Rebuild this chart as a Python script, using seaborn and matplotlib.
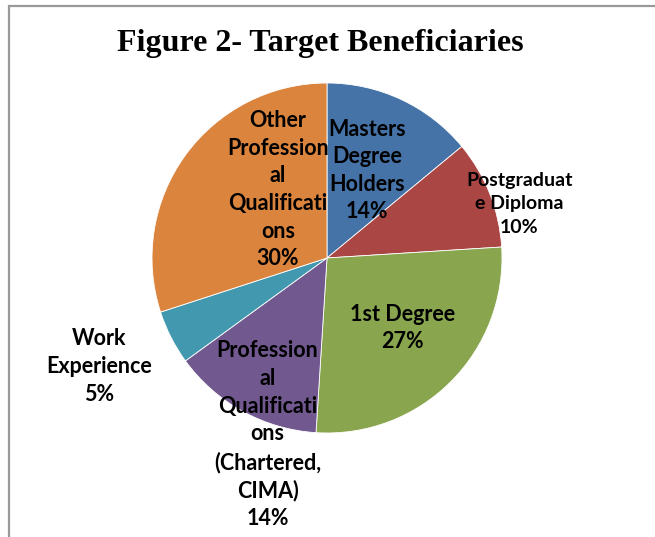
import matplotlib
matplotlib.use("Agg")
import matplotlib.pyplot as plt
import seaborn as sns
from matplotlib.patches import Rectangle

# data
categories = ["Masters\nDegree\nHolders", "Postgraduat\ne Diploma", "1st Degree",
              "Profession\nal\nQualificati\nons\n(Chartered,\nCIMA)",
              "Work\nExperience",
              "Other\nProfession\nal\nQualificati\nons"]
shares = [14, 10, 27, 14, 5, 30]
colors = ["#4573A7", "#AA4644", "#89A54E", "#71588F", "#4298AF", "#DB843D"]

# label placement (pie units, radius = 1), font sizes, line spacing
label_xy = [(0.23, 0.50), (1.10, 0.31), (0.43, -0.40), (-0.34, -1.01), (-1.30, -0.62), (-0.28, 0.39)]
label_size = [15.5, 14, 15.5, 15.5, 15.5, 15.5]
label_gap = [1.39, 1.45, 1.39, 1.39, 1.39, 1.39]

sns.set_style("white")
plt.rcParams["font.family"] = ["Lato", "DejaVu Sans"]

fig = plt.figure(figsize=(6.55, 5.37), dpi=100)
fig.patch.set_facecolor("white")

# chart frame (runs off right/bottom edge)
fig.patches.append(Rectangle((9 / 655, -0.1), 1.2, 1 - 5.5 / 537 + 0.1, transform=fig.transFigure,
                             fill=False, edgecolor="#999999", linewidth=1.6))

ax = fig.add_axes([152 / 655, 104 / 537, 350 / 655, 350 / 537])
ax.pie(shares, colors=colors, startangle=90, counterclock=False, radius=1,
       wedgeprops=dict(linewidth=0.6, edgecolor="white"))
ax.set_xlim(-1, 1)
ax.set_ylim(-1, 1)
ax.set_aspect("equal")
ax.axis("off")

for cat, val, (x, y), fs, ls in zip(categories, shares, label_xy, label_size, label_gap):
    ax.text(x, y, f"{cat}\n{val}%", ha="center", va="center", fontsize=fs,
            fontweight="bold", linespacing=ls, color="black")

fig.text(320 / 655, 1 - 44 / 537, "Figure 2- Target Beneficiaries", ha="center", va="center",
         fontsize=23, fontweight="bold", color="black", family=["Liberation Serif", "DejaVu Serif"])

fig.savefig("out.png", dpi=100)
